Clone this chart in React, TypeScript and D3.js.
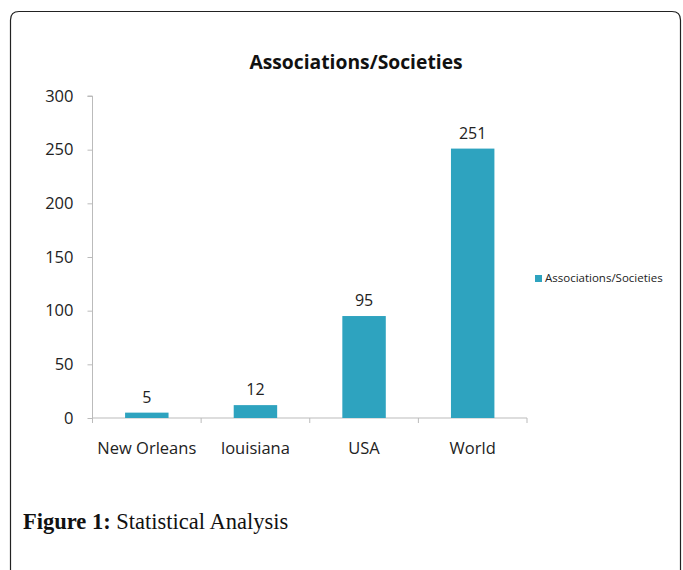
import { useEffect, useRef } from "react";
import * as d3 from "d3";

const categories = ["New Orleans", "louisiana", "USA", "World"];
const values = [5, 12, 95, 251];
const yTicks = [0, 50, 100, 150, 200, 250, 300];
const seriesName = "Associations/Societies";
const chartTitle = "Associations/Societies";

function App() {
  const ref = useRef<SVGSVGElement | null>(null);

  useEffect(() => {
    const barColor = "#2ea3bf";
    const font = "'Open Sans', Lato, sans-serif";

    const svg = d3.select(ref.current);
    svg.selectAll("*").remove();
    svg.style("font-variant-ligatures", "none");

    // outer frame with rounded top corners
    svg
      .append("path")
      .attr("d", "M10.5,575 L10.5,20 Q10.5,11.5 19,11.5 L672,11.5 Q680.5,11.5 680.5,20 L680.5,575")
      .attr("fill", "none")
      .attr("stroke", "#222")
      .attr("stroke-width", 1.2);

    const left = 92.5;
    const right = 527;

    const x = d3
      .scaleBand()
      .domain(categories)
      .range([left, right])
      .paddingInner(0.6)
      .paddingOuter(0.3);

    const y = d3.scaleLinear().domain([0, 300]).range([418, 96]);

    // y axis
    const yAxis = svg
      .append("g")
      .attr("transform", `translate(${left},0)`)
      .call(d3.axisLeft(y).tickValues(yTicks).tickSize(5).tickPadding(14));
    yAxis.select(".domain").attr("stroke", "#bbb").attr("d", `M-5,${y(300)}H0V${y(0)}`);
    yAxis.selectAll(".tick line").attr("stroke", "#bbb");
    yAxis
      .selectAll(".tick text")
      .attr("font-family", font)
      .attr("font-size", 16.5)
      .attr("fill", "#222");

    // x axis with ticks at band boundaries
    const xAxis = svg.append("g").attr("transform", `translate(0,${y(0)})`);
    xAxis.append("line").attr("x1", left).attr("x2", right).attr("stroke", "#bbb");
    const edges = d3.range(categories.length + 1).map((i) => left + i * ((right - left) / categories.length));
    xAxis
      .selectAll(".edge")
      .data(edges)
      .join("line")
      .attr("x1", (d) => d)
      .attr("x2", (d) => d)
      .attr("y1", 0)
      .attr("y2", 5)
      .attr("stroke", "#bbb");

    const center = (c: string) => (x(c) ?? 0) + x.bandwidth() / 2;

    xAxis
      .selectAll(".cat")
      .data(categories)
      .join("text")
      .attr("x", (d) => center(d))
      .attr("y", 36)
      .attr("text-anchor", "middle")
      .attr("font-family", font)
      .attr("font-size", 16.5)
      .attr("fill", "#222")
      .text((d) => d);

    // bars
    svg
      .selectAll(".bar")
      .data(values)
      .join("rect")
      .attr("x", (_, i) => x(categories[i]) ?? 0)
      .attr("y", (d) => y(d))
      .attr("width", x.bandwidth())
      .attr("height", (d) => y(0) - y(d))
      .attr("fill", barColor);

    // value labels
    svg
      .selectAll(".val")
      .data(values)
      .join("text")
      .attr("x", (_, i) => center(categories[i]))
      .attr("y", (d) => y(d) - 10)
      .attr("text-anchor", "middle")
      .attr("font-family", font)
      .attr("font-size", 16)
      .attr("fill", "#222")
      .text((d) => d);

    // title
    svg
      .append("text")
      .attr("x", 356)
      .attr("y", 69)
      .attr("text-anchor", "middle")
      .attr("font-family", font)
      .attr("font-weight", "bold")
      .attr("font-size", 19.3)
      .attr("fill", "#111")
      .text(chartTitle);

    // legend
    const legend = svg.append("g").attr("transform", "translate(535,275)");
    legend.append("rect").attr("width", 7).attr("height", 7).attr("fill", barColor);
    legend
      .append("text")
      .attr("x", 10)
      .attr("y", 7)
      .attr("font-family", font)
      .attr("font-size", 11.5)
      .attr("fill", "#222")
      .text(seriesName);

    // caption
    const caption = svg
      .append("text")
      .attr("x", 23)
      .attr("y", 529)
      .attr("font-family", "'Liberation Serif', 'DejaVu Serif', serif")
      .attr("font-size", 22.5)
      .attr("fill", "#111");
    caption.append("tspan").attr("font-weight", "bold").text("Figure 1:");
    caption.append("tspan").text(" Statistical Analysis");
  }, []);

  return (
    <div style={{ position: "absolute", left: 0, top: 0, background: "#fff" }}>
      <svg ref={ref} width={683} height={570} style={{ display: "block" }} />
    </div>
  );
}

export default App;
